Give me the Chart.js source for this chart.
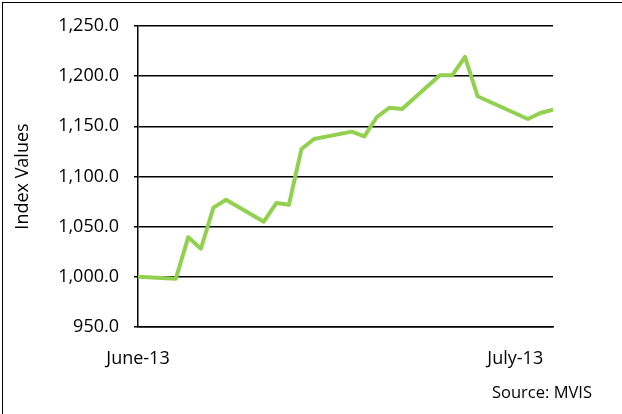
<!DOCTYPE html>
<html>
<head>
<meta charset="utf-8">
<title>Index Values</title>
<script src="https://cdn.jsdelivr.net/npm/chart.js@4/dist/chart.umd.min.js"></script>
<style>
	body { margin: 0; background: #fff; overflow: hidden; }
	#wrap { position: relative; width: 622px; height: 414px; }
	#frame { position: absolute; left: 2px; top: 2px; width: 640px; height: 430px;
		border-top: 1.5px solid #000; border-left: 1.5px solid #000; pointer-events: none; }
	#source { position: absolute; right: 30px; top: 380px; font: 16.5px "Open Sans", sans-serif; color: #000; }
</style>
</head>
<body>
<div id="wrap">
	<canvas id="myChart" width="622" height="414"></canvas>
	<div id="frame"></div>
	<div id="source">Source: MVIS</div>
</div>
<script>
	// trading days, counted in calendar days from the first one
	var days = [0, 3, 4, 5, 6, 7, 10, 11, 12, 13, 14, 17, 18, 19, 20, 21, 24, 25, 26, 27, 31, 32, 33];
	var indexValues = [1000.0, 998.0, 1039.5, 1028.0, 1069.0, 1076.8, 1055.0, 1073.5, 1071.8, 1127.4, 1137.4,
		1144.7, 1140.0, 1159.3, 1168.6, 1167.3, 1200.9, 1201.0, 1219.2, 1180.0, 1157.3, 1163.3, 1166.6];
	// month ticks on the date axis
	var tickDays = [0, 30];
	var tickLabels = ['June-13', 'July-13'];

	var points = [];
	for (let i = 0; i < days.length; i++) {
		points.push({ x: days[i], y: indexValues[i] });
	}

	Chart.defaults.font.family = '"Open Sans", sans-serif';
	Chart.defaults.font.size = 18;
	Chart.defaults.color = '#000';

	new Chart(document.getElementById('myChart'), {
		type: 'line',
		data: {
			datasets: [{
				data: points,
				borderColor: '#92D050',
				borderWidth: 4,
				borderJoinStyle: 'round',
				borderCapStyle: 'round',
				pointRadius: 0,
				tension: 0
			}]
		},
		options: {
			responsive: false,
			animation: false,
			layout: { padding: { left: 0, right: 69, top: 26, bottom: 0 } },
			plugins: { legend: { display: false }, tooltip: { enabled: false } },
			scales: {
				x: {
					type: 'linear',
					min: 0,
					max: 33,
					grid: { display: false },
					border: { display: true, color: '#000', width: 1.5 },
					afterBuildTicks: function (scale) {
						scale.ticks = tickDays.map(v => ({ value: v }));
					},
					afterFit: function (scale) { scale.height = 87; },
					ticks: {
						autoSkip: false,
						maxRotation: 0,
						padding: 13,
						callback: function (value) {
							let i = tickDays.indexOf(value);
							return i >= 0 ? tickLabels[i] : '';
						}
					}
				},
				y: {
					min: 950,
					max: 1250,
					afterFit: function (scale) { scale.width = 138; },
					grid: { color: '#000', lineWidth: 1.5, tickLength: 4, drawTicks: true },
					border: { display: true, color: '#000', width: 1.5 },
					ticks: {
						stepSize: 50,
						padding: 15,
						callback: function (value) {
							return value.toLocaleString('en-US', { minimumFractionDigits: 1, maximumFractionDigits: 1 });
						}
					},
					title: { display: true, text: 'Index Values', padding: { top: 12, bottom: 0 } }
				}
			}
		}
	});
</script>
</body>
</html>
